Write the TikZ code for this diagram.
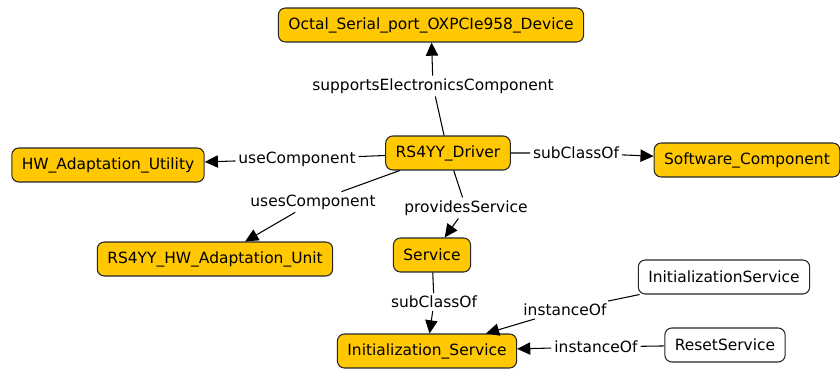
\documentclass[tikz,border=0pt]{standalone}
\usepackage{fontspec}
\setmainfont{DejaVu Sans}
\usetikzlibrary{arrows.meta}
\definecolor{classgold}{RGB}{255,200,0}

\begin{document}
\begin{tikzpicture}[x=0.02cm, y=-0.02cm,
  font=\fontsize{8.8}{10}\selectfont,
  class/.style={draw=black!85, line width=0.6pt, fill=classgold, rounded corners=4pt, minimum height=0.68cm, inner xsep=0.2cm},
  indiv/.style={class, fill=white},
  rel/.style={-{Triangle[length=7.5pt, width=7pt]}, line width=0.6pt},
  lbl/.style={fill=white, inner sep=1.5pt}]
  \useasboundingbox (0,0) rectangle (840,372);

  % Classes
  \node[class] (oct) at (431, 25) {Octal\_Serial\_port\_OXPCIe958\_Device};
  \node[class] (drv) at (448, 153) {RS4YY\_Driver};
  \node[class] (util) at (108, 165) {HW\_Adaptation\_Utility};
  \node[class] (swc) at (747, 160) {Software\_Component};
  \node[class] (unit) at (215, 259) {RS4YY\_HW\_Adaptation\_Unit};
  \node[class] (svc) at (432, 255) {Service};
  \node[class] (init) at (427, 351) {Initialization\_Service};

  % Individuals
  \node[indiv] (initsvc) at (724, 277) {InitializationService};
  \node[indiv] (reset) at (725, 345) {ResetService};

  % Edge labels
  \node[lbl] (lsup) at (433, 86) {supportsElectronicsComponent};
  \node[lbl] (luse) at (297, 159) {useComponent};
  \node[lbl] (luses) at (313, 202) {usesComponent};
  \node[lbl] (lsubsw) at (576, 153) {subClassOf};
  \node[lbl] (lprov) at (466, 208) {providesService};
  \node[lbl] (lsubsvc) at (434, 302) {subClassOf};
  \node[lbl] (linit) at (565, 310) {instanceOf};
  \node[lbl] (lreset) at (596, 347) {instanceOf};

  % Relations from the driver
  \draw[rel] (drv) -- (lsup) -- (oct);
  \draw[rel] (drv) -- (luse) -- (util);
  \draw[rel] (drv) -- (luses) -- (unit);
  \draw[rel] (drv) -- (lsubsw) -- (swc);
  \draw[rel] (drv) -- (lprov) -- (svc);

  % Service hierarchy and instances
  \draw[rel] (svc) -- (lsubsvc) -- (init);
  \draw[rel] (initsvc) -- (linit) -- (init);
  \draw[rel] (reset) -- (lreset) -- (init);
\end{tikzpicture}
\end{document}
